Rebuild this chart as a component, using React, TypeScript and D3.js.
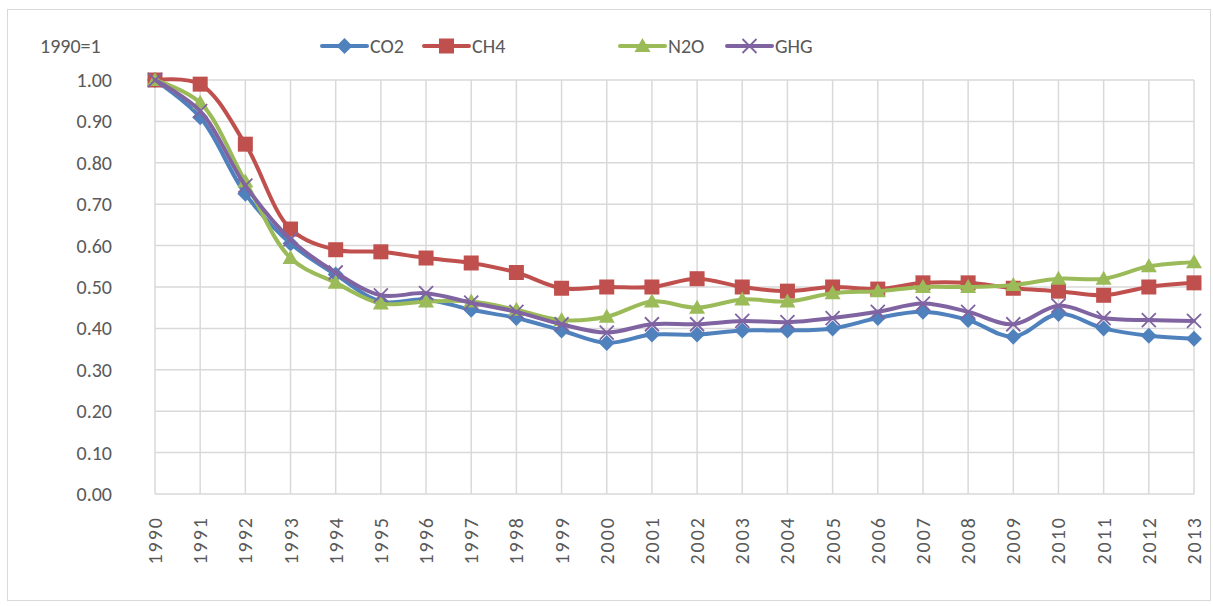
import { useEffect, useRef } from 'react';
import * as d3 from 'd3';

const years = d3.range(1990, 2014).map(String);
const yTicks = [0, 0.1, 0.2, 0.3, 0.4, 0.5, 0.6, 0.7, 0.8, 0.9, 1.0];

const co2 = [1.0, 0.91, 0.725, 0.605, 0.53, 0.465, 0.47, 0.445, 0.425, 0.395, 0.365, 0.385, 0.385, 0.395, 0.395, 0.4, 0.425, 0.44, 0.42, 0.38, 0.435, 0.4, 0.382, 0.375];
const ch4 = [1.0, 0.99, 0.845, 0.64, 0.59, 0.585, 0.57, 0.558, 0.535, 0.497, 0.5, 0.5, 0.52, 0.5, 0.49, 0.5, 0.495, 0.51, 0.51, 0.497, 0.49, 0.48, 0.5, 0.51];
const n2o = [1.0, 0.945, 0.755, 0.57, 0.51, 0.46, 0.465, 0.465, 0.445, 0.42, 0.428, 0.465, 0.45, 0.47, 0.465, 0.485, 0.49, 0.5, 0.5, 0.505, 0.52, 0.52, 0.55, 0.56];
const ghg = [1.0, 0.925, 0.745, 0.615, 0.535, 0.48, 0.485, 0.462, 0.44, 0.41, 0.39, 0.41, 0.41, 0.418, 0.415, 0.425, 0.44, 0.46, 0.44, 0.41, 0.455, 0.425, 0.42, 0.418];

const series = [
  { name: 'CO2', values: co2, color: '#4f81bd', marker: 'diamond' },
  { name: 'CH4', values: ch4, color: '#c0504d', marker: 'square' },
  { name: 'N2O', values: n2o, color: '#9bbb59', marker: 'triangle' },
  { name: 'GHG', values: ghg, color: '#8064a2', marker: 'x' },
];

const legendX = [322, 424, 620, 727];

export default function App() {
  const svgRef = useRef<SVGSVGElement | null>(null);

  useEffect(() => {
    if (!svgRef.current) return;
    const svg = d3.select(svgRef.current);
    svg.selectAll('*').remove();

    const width = 1213;
    const height = 606;
    const font = "Carlito, 'Liberation Sans', Arial, sans-serif";
    const textColor = '#595959';
    const fs = 20;

    svg.attr('width', width).attr('height', height);

    svg
      .append('rect')
      .attr('x', 7.5)
      .attr('y', 9.5)
      .attr('width', 1203)
      .attr('height', 591)
      .attr('fill', '#fff')
      .attr('stroke', '#d9d9d9');

    const x = d3.scalePoint().domain(years).range([155, 1194]);
    const y = d3.scaleLinear().domain([0, 1]).range([494, 80]);

    // grid
    const grid = svg.append('g').attr('stroke', '#d9d9d9').attr('stroke-width', 1.5);
    grid
      .selectAll('line.h')
      .data(yTicks)
      .join('line')
      .attr('x1', 155)
      .attr('x2', 1194)
      .attr('y1', (d) => y(d))
      .attr('y2', (d) => y(d));
    grid
      .selectAll('line.v')
      .data(years)
      .join('line')
      .attr('x1', (d) => x(d)!)
      .attr('x2', (d) => x(d)!)
      .attr('y1', y(1))
      .attr('y2', y(0));

    // y labels
    svg
      .append('g')
      .selectAll('text')
      .data(yTicks)
      .join('text')
      .attr('x', 112)
      .attr('y', (d) => y(d))
      .attr('dy', '0.35em')
      .attr('text-anchor', 'end')
      .attr('font-family', font)
      .attr('font-size', fs)
      .attr('fill', textColor)
      .text((d) => d.toFixed(2));

    // x labels
    svg
      .append('g')
      .selectAll('text')
      .data(years)
      .join('text')
      .attr('transform', (d) => `translate(${x(d)! + 7},516) rotate(-90)`)
      .attr('text-anchor', 'end')
      .attr('font-family', font)
      .attr('font-size', fs)
      .attr('letter-spacing', 2)
      .attr('fill', textColor)
      .text((d) => d);

    svg
      .append('text')
      .attr('x', 40)
      .attr('y', 46)
      .attr('dy', '0.35em')
      .attr('font-family', font)
      .attr('font-size', fs)
      .attr('fill', textColor)
      .text('1990=1');

    const drawMarker = (g: d3.Selection<SVGGElement, unknown, null, undefined>, kind: string, cx: number, cy: number, color: string) => {
      if (kind === 'diamond') {
        g.append('path')
          .attr('d', `M${cx},${cy - 8}L${cx + 8},${cy}L${cx},${cy + 8}L${cx - 8},${cy}Z`)
          .attr('fill', color);
      } else if (kind === 'square') {
        g.append('rect')
          .attr('x', cx - 7.5)
          .attr('y', cy - 7.5)
          .attr('width', 15)
          .attr('height', 15)
          .attr('fill', color);
      } else if (kind === 'triangle') {
        g.append('path')
          .attr('d', `M${cx},${cy - 8}L${cx + 8},${cy + 6}L${cx - 8},${cy + 6}Z`)
          .attr('fill', color);
      } else {
        g.append('path')
          .attr('d', `M${cx - 7},${cy - 7}L${cx + 7},${cy + 7}M${cx + 7},${cy - 7}L${cx - 7},${cy + 7}`)
          .attr('stroke', color)
          .attr('stroke-width', 1.8)
          .attr('fill', 'none');
      }
    };

    const line = d3
      .line<number>()
      .x((_, i) => x(years[i])!)
      .y((d) => y(d))
      .curve(d3.curveCatmullRom.alpha(0.5));

    series.forEach((s) => {
      const g = svg.append('g');
      g.append('path')
        .attr('d', line(s.values)!)
        .attr('fill', 'none')
        .attr('stroke', s.color)
        .attr('stroke-width', 4)
        .attr('stroke-linejoin', 'round')
        .attr('stroke-linecap', 'round');
      s.values.forEach((v, i) => drawMarker(g, s.marker, x(years[i])!, y(v), s.color));
    });

    // legend
    series.forEach((s, i) => {
      const g = svg.append('g');
      const lx = legendX[i];
      g.append('line')
        .attr('x1', lx)
        .attr('x2', lx + 45)
        .attr('y1', 46)
        .attr('y2', 46)
        .attr('stroke', s.color)
        .attr('stroke-width', 4)
        .attr('stroke-linecap', 'round');
      drawMarker(g, s.marker, lx + 22.5, 46, s.color);
      g.append('text')
        .attr('x', lx + 48)
        .attr('y', 46)
        .attr('dy', '0.35em')
        .attr('font-family', font)
        .attr('font-size', fs)
        .attr('fill', textColor)
        .text(s.name);
    });
  }, []);

  return <svg ref={svgRef} style={{ position: 'absolute', left: 0, top: 0 }} />;
}
